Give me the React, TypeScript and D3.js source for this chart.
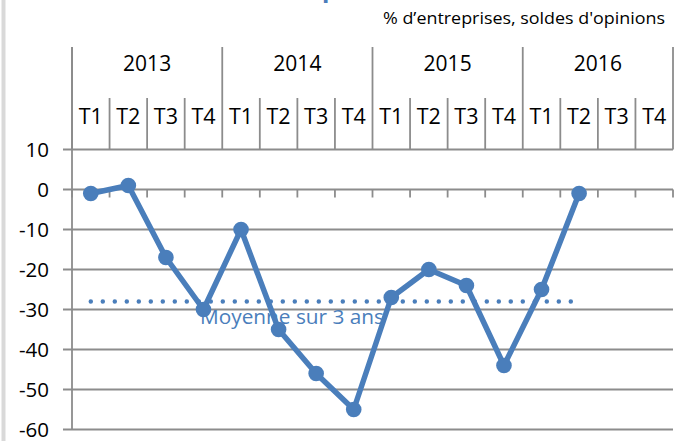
import React from "react";
import * as d3 from "d3";

const years = ["2013", "2014", "2015", "2016"];
const quarters = ["T1", "T2", "T3", "T4"];
const values = [-1, 1, -17, -30, -10, -35, -46, -55, -27, -20, -24, -44, -25, -1];
const average = -28;
const yTicks = [10, 0, -10, -20, -30, -40, -50, -60];
const subtitle = "% d\u2019entreprises, soldes d'opinions";
const avgLabel = "Moyenne sur 3 ans";

const W = 680;
const H = 441;
const BLUE = "#4a7ebb";
const GRID = "#8c8c8c";
const FONT = "'Open Sans', sans-serif";

export default function App() {
  const cats = years.flatMap((y) => quarters.map((q) => `${y}-${q}`));
  const x = d3.scaleBand<string>().domain(cats).range([72, 673]).paddingInner(0).paddingOuter(0);
  const y = d3.scaleLinear().domain([-60, 10]).range([429.5, 149.5]);
  const bw = x.bandwidth();
  const cx = (i: number) => (x(cats[i]) as number) + bw / 2;
  const line = d3
    .line<number>()
    .x((_, i) => cx(i))
    .y((d) => y(d));
  const boundaries = d3.range(cats.length + 1).map((i) => 72 + i * bw);

  return (
    <div style={{ position: "fixed", left: 0, top: 0 }}>
      <svg width={W} height={H} style={{ display: "block", background: "#fff" }}>
        <rect x={1.5} y={0} width={4} height={H} fill="#d9d9d9" />
        <text x={322} y={-3} fontFamily={FONT} fontWeight="bold" fontSize={24} fill={BLUE}>
          p
        </text>
        <text
          x={383}
          y={24}
          fontFamily={FONT}
          fontSize={17}
          fill="#000"
          textLength={282}
          lengthAdjust="spacingAndGlyphs"
        >
          {subtitle}
        </text>

        {/* gridlines */}
        {yTicks.map((t) => (
          <line key={t} x1={63} x2={673} y1={y(t)} y2={y(t)} stroke={GRID} strokeWidth={1.8} />
        ))}
        {/* y axis */}
        <line x1={72} x2={72} y1={47} y2={y(-60)} stroke={GRID} strokeWidth={1.8} />
        {yTicks.map((t) => (
          <text
            key={t}
            x={49}
            y={y(t)}
            dy="0.36em"
            textAnchor="end"
            fontFamily={FONT}
            fontSize={20.5}
            fill="#000"
          >
            {t}
          </text>
        ))}
        {/* x axis ticks at 0 */}
        {boundaries.map((bx, i) => (
          <line key={"t" + i} x1={bx} x2={bx} y1={y(0)} y2={y(0) + 8} stroke={GRID} strokeWidth={1.8} />
        ))}
        {/* header separators */}
        {boundaries.map((bx, i) => (
          <line
            key={"s" + i}
            x1={bx}
            x2={bx}
            y1={i % 4 === 0 ? 47 : 98}
            y2={y(10)}
            stroke={GRID}
            strokeWidth={1.8}
          />
        ))}
        {years.map((yr, j) => (
          <text
            key={yr}
            x={72 + (j * 4 + 2) * bw}
            y={71}
            textAnchor="middle"
            fontFamily={FONT}
            fontSize={21}
            fill="#000"
          >
            {yr}
          </text>
        ))}
        {cats.map((c, i) => (
          <text
            key={c}
            x={cx(i)}
            y={124}
            textAnchor="middle"
            fontFamily={FONT}
            fontSize={21.5}
            fill="#000"
          >
            {quarters[i % 4]}
          </text>
        ))}

        {/* average dotted line */}
        <line
          x1={cx(0)}
          x2={cx(13)}
          y1={y(average)}
          y2={y(average)}
          stroke={BLUE}
          strokeWidth={4.5}
          strokeLinecap="round"
          strokeDasharray="0 12"
        />
        <text
          x={200}
          y={324}
          fontFamily={FONT}
          fontSize={20}
          fill={BLUE}
          textLength={184}
          lengthAdjust="spacingAndGlyphs"
        >
          {avgLabel}
        </text>

        {/* series */}
        <path d={line(values) || ""} fill="none" stroke={BLUE} strokeWidth={5.5} strokeLinejoin="round" />
        {values.map((v, i) => (
          <circle key={i} cx={cx(i)} cy={y(v)} r={7.8} fill={BLUE} />
        ))}
      </svg>
    </div>
  );
}
